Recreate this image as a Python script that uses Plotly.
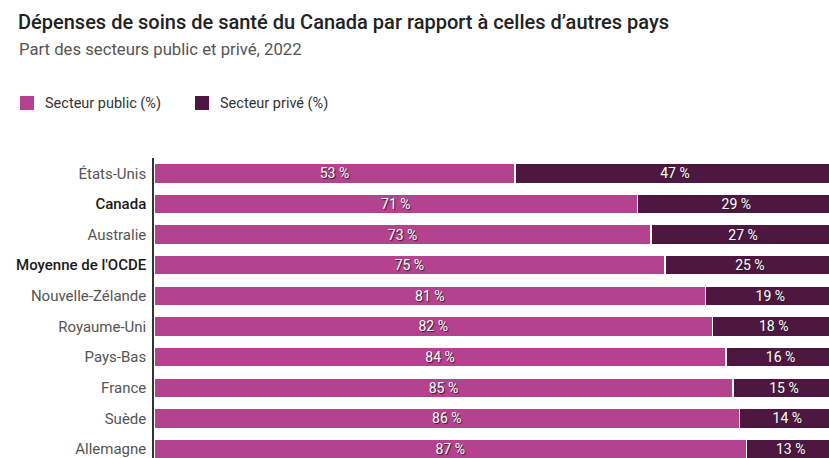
import plotly.graph_objects as go

countries = ["États-Unis", "Canada", "Australie", "Moyenne de l'OCDE", "Nouvelle-Zélande",
             "Royaume-Uni", "Pays-Bas", "France", "Suède", "Allemagne"]
public = [53, 71, 73, 75, 81, 82, 84, 85, 86, 87]
private = [47, 29, 27, 25, 19, 18, 16, 15, 14, 13]
bold_labels = ["Canada", "Moyenne de l'OCDE"]
series_names = ["Secteur public (%)", "Secteur privé (%)"]
series_colors = ["#b5428f", "#4e1741"]

pos = list(range(len(countries)))
ticktext = [f"<span style='color:#1a1a1a;font-weight:500'>{c}</span>" if c in bold_labels else c
            for c in countries]

W, H = 829, 458
left = 154
full = 681.0  # px per 100%

tf = dict(family="Roboto", size=14, color="white", shadow="1px 1px 1px #222")

fig = go.Figure()
for vals, name, col in zip([public, private], series_names, series_colors):
    fig.add_trace(go.Bar(
        y=pos, x=vals, orientation="h", name=name, showlegend=False,
        marker=dict(color=col, line=dict(color="white", width=1.5)),
        text=[f"{v} %" for v in vals], textposition="inside", insidetextanchor="middle",
        textangle=0, textfont=tf, constraintext="none", hoverinfo="skip",
    ))

xmax = (W - left) / full * 100

fig.update_layout(
    width=W, height=H,
    barmode="stack", bargap=0.35,
    paper_bgcolor="white", plot_bgcolor="white",
    margin=dict(l=left, r=0, t=158, b=0),
    font=dict(family="Roboto", color="#333"),
    title=dict(
        text="Dépenses de soins de santé du Canada par rapport à celles d’autres pays",
        x=18 / W, xref="container", xanchor="left", y=1 - 22 / H, yanchor="middle",
        font=dict(family="Roboto", size=20, color="#222", weight=500),
    ),
    showlegend=False,
    xaxis=dict(range=[0, xmax], showgrid=False, zeroline=False, showticklabels=False,
               showline=False, fixedrange=True),
    yaxis=dict(
        tickvals=pos, ticktext=ticktext, range=[9 + (H - 449) / 30.63, -0.5],
        showgrid=False, zeroline=False, showline=True, linecolor="#333", linewidth=1.5,
        ticks="", ticklabelstandoff=3, ticklabeloverflow="allow",
        tickfont=dict(family="Roboto", size=15, color="#555"),
    ),
)

def px_x(px):
    return (px - left) / (W - left)

def px_y(py):
    return (H - py) / (H - 158)

fig.add_annotation(
    text="Part des secteurs public et privé, 2022",
    xref="paper", yref="paper", x=px_x(17), y=px_y(50), xanchor="left", yanchor="middle",
    showarrow=False, font=dict(family="Roboto", size=16.7, color="#555"),
)

# custom legend
leg_x = [20, 195]
for lx, name, col in zip(leg_x, series_names, series_colors):
    fig.add_shape(type="rect", xref="paper", yref="paper",
                  x0=px_x(lx), x1=px_x(lx + 14), y0=px_y(110), y1=px_y(96),
                  fillcolor=col, line=dict(width=0), layer="above")
    fig.add_annotation(text=name, xref="paper", yref="paper", x=px_x(lx + 23), y=px_y(103),
                       xanchor="left", yanchor="middle", showarrow=False,
                       font=dict(family="Roboto", size=14.5, color="#333"))

fig.write_html("out.html")
